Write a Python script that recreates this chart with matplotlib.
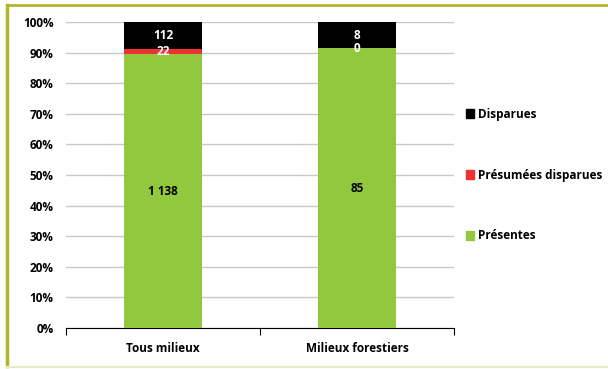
import matplotlib.pyplot as plt
from matplotlib.patches import Patch
from matplotlib.lines import Line2D
import numpy as np

categories = ['Tous milieux', 'Milieux forestiers']
presentes = [1138, 85]
presumees = [22, 0]
disparues = [112, 8]
series_names = ['Présentes', 'Présumées disparues', 'Disparues']
colors = ['#92C83E', '#EE3232', '#000000']

plt.rcParams['font.family'] = ['Open Sans', 'DejaVu Sans']
plt.rcParams['font.weight'] = 'bold'

fig = plt.figure(figsize=(6.08, 3.69), dpi=100)
ax = fig.add_axes([66 / 608, 1 - 328 / 369, 388 / 608, 306 / 369])

data = np.array([presentes, presumees, disparues], dtype=float)
totals = data.sum(axis=0)
pct = data / totals * 100
x = np.arange(len(categories))
bottom = np.zeros(len(categories))
label_colors = ['black', 'white', 'white']
for i in range(3):
    ax.bar(x, pct[i], bottom=bottom, width=0.4, color=colors[i], zorder=3)
    for j in range(len(categories)):
        v = int(data[i, j])
        txt = f'{v:,}'.replace(',', ' ')
        ax.text(x[j], bottom[j] + pct[i, j] / 2, txt, ha='center', va='center',
                color=label_colors[i], fontsize=8.5, fontweight='bold', zorder=4)
    bottom += pct[i]

ax.set_xlim(-0.5, 1.5)
ax.set_ylim(0, 100)
ax.set_yticks(range(0, 101, 10))
ax.set_yticklabels([f'{t}%' for t in range(0, 101, 10)], fontsize=8.5, fontweight='bold')
ax.yaxis.grid(True, color='#C8C8C8', linewidth=1, zorder=0)
ax.set_xticks([-0.5, 0.5, 1.5], minor=False)
ax.set_xticklabels([])
ax.set_xticks(x, minor=True)
ax.set_xticklabels(categories, minor=True, fontsize=8.5, fontweight='bold')
ax.tick_params(axis='x', which='major', length=5, direction='out', color='black')
ax.tick_params(axis='x', which='minor', length=0, pad=10)
ax.tick_params(axis='y', length=0, pad=9)
for s in ['top', 'right', 'left']:
    ax.spines[s].set_visible(False)
ax.spines['bottom'].set_color('black')

handles = [Patch(color=colors[i]) for i in [2, 1, 0]]
leg = fig.legend(handles, [series_names[i] for i in [2, 1, 0]], loc='center left',
                 bbox_to_anchor=(455 / 608, 1 - 175 / 369), frameon=False,
                 handlelength=0.75, handleheight=0.75, handletextpad=0.3,
                 labelspacing=4.05, prop={'weight': 'bold', 'size': 8.5})

# frame around the chart
olive = '#B4B42C'
def fx(p):
    return p / 608
def fy(p):
    return 1 - p / 369
fig.add_artist(Line2D([fx(7), fx(7)], [fy(5), fy(366)], color=olive, lw=2.5))
fig.add_artist(Line2D([fx(7), fx(608)], [fy(5), fy(5)], color=olive, lw=2))
fig.add_artist(Line2D([fx(7), fx(608)], [fy(367), fy(367)], color='#E4EFC8', lw=1.5))

fig.savefig('out.png', dpi=100)
